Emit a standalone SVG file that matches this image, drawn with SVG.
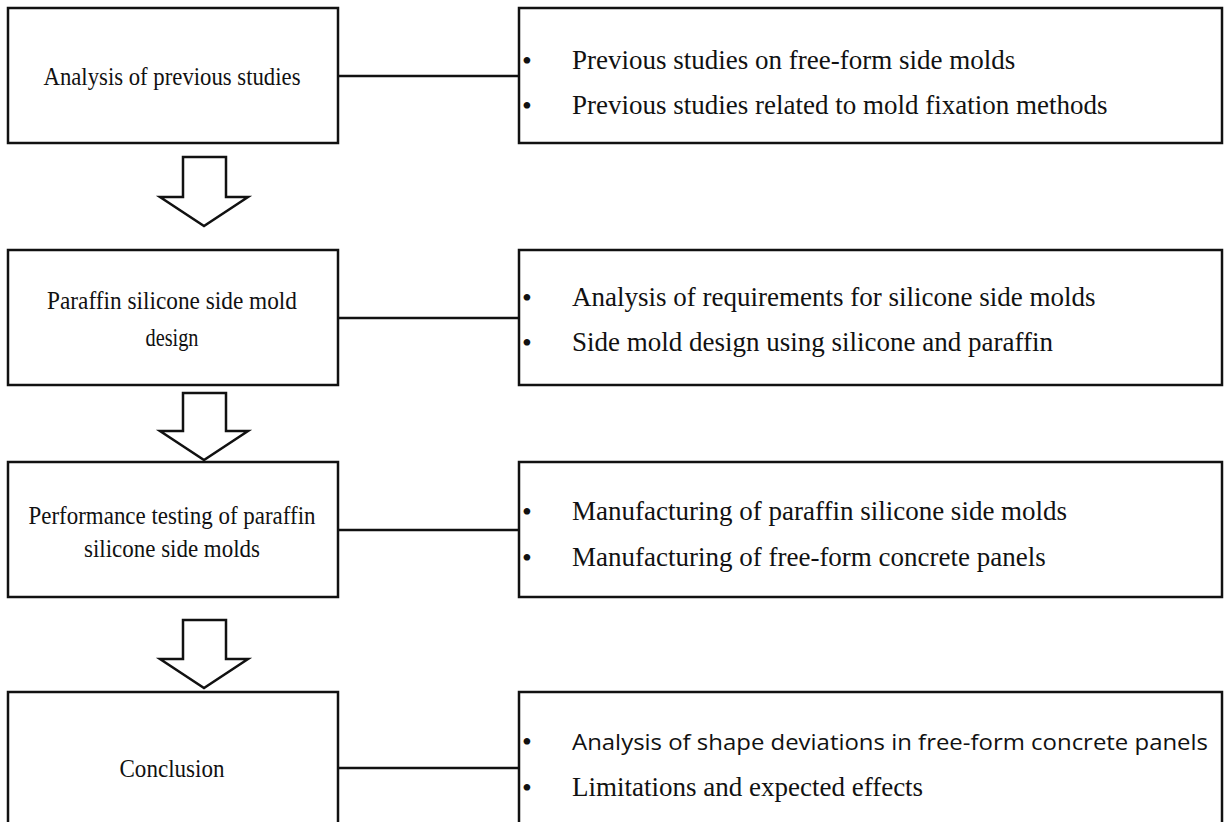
<svg xmlns="http://www.w3.org/2000/svg" width="1225" height="822" viewBox="0 0 1225 822">
<style>
.box{fill:#fff;stroke:#111;stroke-width:2.5}
.arrow{fill:#fff;stroke:#111;stroke-width:2.5;stroke-linejoin:miter}
.conn{stroke:#111;stroke-width:2.5;fill:none}
.t{font-family:"Liberation Serif","Times New Roman",serif;font-size:25px;fill:#111}
.b{font-family:"Liberation Serif","Times New Roman",serif;font-size:28px;fill:#111}
.r{font-family:"Liberation Serif","Times New Roman",serif;font-size:27px;fill:#111}
.c{text-anchor:middle}
.s{font-family:"Open Sans","Liberation Sans",sans-serif;font-size:22px;fill:#111}
</style>
<rect width="1225" height="822" fill="#fff"/>
<g id="connectors">
<line class="conn" x1="338" y1="76" x2="519" y2="76"/>
<line class="conn" x1="338" y1="318" x2="519" y2="318"/>
<line class="conn" x1="338" y1="530" x2="519" y2="530"/>
<line class="conn" x1="338" y1="768" x2="519" y2="768"/>
<polygon class="arrow" points="183,157 226,157 226,197 248,197 204,226 160,197 183,197"/>
<polygon class="arrow" points="183,393 226,393 226,431 248,431 204,460 160,431 183,431"/>
<polygon class="arrow" points="183,620 226,620 226,659 248,659 204,688 160,659 183,659"/>
</g>
<g id="n1">
<rect class="box" x="8" y="8" width="330" height="135"/>
<text class="t c" x="172" y="85" textLength="257" lengthAdjust="spacingAndGlyphs">Analysis of previous studies</text>
</g>
<g id="d1">
<rect class="box" x="519" y="8" width="703" height="135"/>
<text class="b" x="522" y="70">•</text><text class="r" x="572" y="69">Previous studies on free-form side molds</text>
<text class="b" x="522" y="115">•</text><text class="r" x="572" y="114">Previous studies related to mold fixation methods</text>
</g>
<g id="n2">
<rect class="box" x="8" y="250" width="330" height="135"/>
<text class="t c" x="172" y="309" textLength="250" lengthAdjust="spacingAndGlyphs">Paraffin silicone side mold</text>
<text class="t c" x="172" y="346" textLength="53" lengthAdjust="spacingAndGlyphs">design</text>
</g>
<g id="d2">
<rect class="box" x="519" y="250" width="703" height="135"/>
<text class="b" x="522" y="307">•</text><text class="r" x="572" y="306">Analysis of requirements for silicone side molds</text>
<text class="b" x="522" y="352">•</text><text class="r" x="572" y="351">Side mold design using silicone and paraffin</text>
</g>
<g id="n3">
<rect class="box" x="8" y="462" width="330" height="135"/>
<text class="t c" x="172" y="524" textLength="287" lengthAdjust="spacingAndGlyphs">Performance testing of paraffin</text>
<text class="t c" x="172" y="557" textLength="176" lengthAdjust="spacingAndGlyphs">silicone side molds</text>
</g>
<g id="d3">
<rect class="box" x="519" y="462" width="703" height="135"/>
<text class="b" x="522" y="521">•</text><text class="r" x="572" y="520">Manufacturing of paraffin silicone side molds</text>
<text class="b" x="522" y="567">•</text><text class="r" x="572" y="566">Manufacturing of free-form concrete panels</text>
</g>
<g id="n4">
<rect class="box" x="8" y="692" width="330" height="140"/>
<text class="t c" x="172" y="777" textLength="105" lengthAdjust="spacingAndGlyphs">Conclusion</text>
</g>
<g id="d4">
<rect class="box" x="519" y="692" width="703" height="140"/>
<text class="b" x="522" y="751">•</text><text class="s" x="572" y="750" textLength="636" lengthAdjust="spacingAndGlyphs">Analysis of shape deviations in free-form concrete panels</text>
<text class="b" x="522" y="797">•</text><text class="r" x="572" y="796">Limitations and expected effects</text>
</g>
</svg>
